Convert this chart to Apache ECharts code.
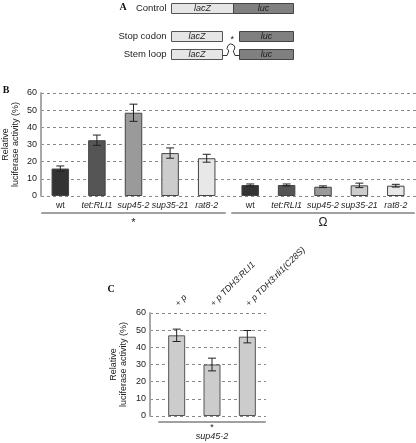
<!DOCTYPE html>
<html>
<head>
<meta charset="utf-8">
<script src="https://cdn.jsdelivr.net/npm/echarts@6/dist/echarts.min.js"></script>
<style>
html,body{margin:0;padding:0;background:#fff;}
#c{width:416px;height:443px;}
</style>
</head>
<body>
<div id="c"></div>
<script>
// ---- data ----
var strainsB = ['wt', 'tet:RLI1', 'sup45-2', 'sup35-21', 'rat8-2'];
var stopValues = [16, 32.5, 48.5, 25, 22];
var stopErrors = [1.5, 3, 5, 3, 2.3];
var loopValues = [6.4, 6.4, 5.4, 6.2, 6.0];
var loopErrors = [0.6, 0.6, 0.5, 1.3, 0.8];
var plasmidsC = ['+ p', '+ p TDH3:RLI1', '+ p TDH3:rli1(C28S)'];
var valuesC = [47, 30, 46.2];
var errorsC = [3.6, 3.7, 3.6];
var yMin = 0, yMax = 60, yStep = 10;

// ---- styles ----
var barColorsB = ['#333333', '#555555', '#9a9a9a', '#cccccc', '#e8e8e8'];
var barColorC = '#cccccc';
var FONT = 'Liberation Sans, Arial, sans-serif';
var SERIF = 'Liberation Serif, DejaVu Serif, serif';

var chart = echarts.init(document.getElementById('c'), null, {renderer: 'canvas'});

function errItem(params, api) {
  var x = api.value(0), y = api.value(1), e = api.value(2);
  var hi = api.coord([x, y + e]), lo = api.coord([x, y - e]);
  var w = 4;
  var st = {stroke: '#222', lineWidth: 1};
  return {type: 'group', children: [
    {type: 'line', shape: {x1: hi[0], y1: hi[1], x2: lo[0], y2: lo[1]}, style: st},
    {type: 'line', shape: {x1: hi[0] - w, y1: hi[1], x2: hi[0] + w, y2: hi[1]}, style: st},
    {type: 'line', shape: {x1: lo[0] - w, y1: lo[1], x2: lo[0] + w, y2: lo[1]}, style: st}
  ]};
}

var labelRich = {
  n: {fontSize: 8.8, fontStyle: 'normal', fontFamily: FONT, color: '#222'},
  i: {fontSize: 8.8, fontStyle: 'italic', fontFamily: FONT, color: '#222'}
};
function strainFmt(v) { return v === 'wt' ? '{n|wt}' : '{i|' + v + '}'; }
function plasmidFmt(v) { return '{n|+ }{i|' + v.replace(/^\+ /, '') + '}'; }

var valueYAxisShown = function (gi, gap) {
  return {
    gridIndex: gi, type: 'value', min: yMin, max: yMax, interval: yStep,
    axisLine: {show: true, lineStyle: {color: '#a8a8a8', width: 2}},
    axisTick: {show: false},
    axisLabel: {fontSize: 9, color: '#222', fontFamily: FONT, margin: 4},
    splitLine: {show: true, lineStyle: {color: '#888', type: [3, 3], width: 1}},
    name: 'Relative\nluciferase activity (%)',
    nameLocation: 'middle', nameGap: gap, nameMoveOverlap: false,
    nameTextStyle: {fontSize: 9, color: '#222', fontFamily: FONT, lineHeight: 10}
  };
};
var hiddenY = function (gi) {
  return {gridIndex: gi, type: 'value', min: yMin, max: yMax, interval: yStep, show: false, splitLine: {show: false}};
};
var labelX = function (gi, data, fmt, pos, extra) {
  var a = {
    gridIndex: gi, type: 'category', data: data, position: pos,
    axisLine: {show: false}, axisTick: {show: false},
    axisLabel: {interval: 0, formatter: fmt, rich: labelRich, margin: 5}
  };
  if (extra) { for (var k in extra) a.axisLabel[k] = extra[k]; }
  return a;
};
var underlineX = function (gi, data, off, name, gap, nts) {
  return {
    gridIndex: gi, type: 'category', data: data, position: 'bottom', offset: off,
    axisLine: {show: true, lineStyle: {color: '#a0a0a0', width: 2}},
    axisTick: {show: false}, axisLabel: {show: false},
    name: name, nameLocation: 'middle', nameGap: gap, nameTextStyle: nts
  };
};

var gridBase = {outerBoundsMode: 'none', containLabel: false};
function mkGrid(l, w, t, h) {
  return Object.assign({}, gridBase, {left: l, width: w, top: t, height: h});
}

var option = {
  animation: false,
  backgroundColor: '#fff',
  grid: [
    mkGrid(41, 375, 93, 103),   // B background
    mkGrid(42, 183, 93, 103),   // B stop codon
    mkGrid(232, 182, 93, 103),  // B stem loop
    mkGrid(150, 116, 313, 103), // C background
    mkGrid(159, 106, 313, 103)  // C bars
  ],
  xAxis: [
    {gridIndex: 0, type: 'value', show: false, splitLine: {show: false}},
    labelX(1, strainsB, strainFmt, 'bottom'),
    underlineX(1, strainsB, 17, '*', 4, {fontSize: 11, color: '#222', fontFamily: FONT}),
    labelX(2, strainsB, strainFmt, 'bottom'),
    underlineX(2, strainsB, 17, 'Ω', 4, {fontSize: 12, color: '#222', fontFamily: FONT}),
    {gridIndex: 3, type: 'value', show: false, splitLine: {show: false}},
    labelX(4, plasmidsC, plasmidFmt, 'top', {rotate: 45, margin: 8}),
    underlineX(4, plasmidsC, 6, '{a|*}\n{b|sup45-2}', 2, {
      color: '#222', fontFamily: FONT,
      rich: {
        a: {fontSize: 9, lineHeight: 7, fontFamily: FONT, color: '#222'},
        b: {fontSize: 9, lineHeight: 11, fontStyle: 'italic', fontFamily: FONT, color: '#222'}
      }
    })
  ],
  yAxis: [
    valueYAxisShown(0, 20),
    hiddenY(1),
    hiddenY(2),
    valueYAxisShown(3, 21.5),
    hiddenY(4)
  ],
  series: [
    {type: 'bar', xAxisIndex: 1, yAxisIndex: 1, barWidth: 17.5,
     itemStyle: {borderColor: '#444', borderWidth: 1},
     data: stopValues.map(function (v, i) { return {value: v, itemStyle: {color: barColorsB[i]}}; })},
    {type: 'custom', xAxisIndex: 1, yAxisIndex: 1, renderItem: errItem, z: 5,
     data: stopValues.map(function (v, i) { return [i, v, stopErrors[i]]; })},
    {type: 'bar', xAxisIndex: 3, yAxisIndex: 2, barWidth: 17.5,
     itemStyle: {borderColor: '#444', borderWidth: 1},
     data: loopValues.map(function (v, i) { return {value: v, itemStyle: {color: barColorsB[i]}}; })},
    {type: 'custom', xAxisIndex: 3, yAxisIndex: 2, renderItem: errItem, z: 5,
     data: loopValues.map(function (v, i) { return [i, v, loopErrors[i]]; })},
    {type: 'bar', xAxisIndex: 6, yAxisIndex: 4, barWidth: 17,
     itemStyle: {color: barColorC, borderColor: '#555', borderWidth: 1},
     data: valuesC},
    {type: 'custom', xAxisIndex: 6, yAxisIndex: 4, renderItem: errItem, z: 5,
     data: valuesC.map(function (v, i) { return [i, v, errorsC[i]]; })}
  ],
  graphic: [
    // panel letters
    {type: 'text', x: 123, y: 7, style: {text: 'A', font: 'bold 10px ' + SERIF, fill: '#111', align: 'center', verticalAlign: 'middle'}},
    {type: 'text', x: 6, y: 90, style: {text: 'B', font: 'bold 10px ' + SERIF, fill: '#111', align: 'center', verticalAlign: 'middle'}},
    {type: 'text', x: 111, y: 289, style: {text: 'C', font: 'bold 10px ' + SERIF, fill: '#111', align: 'center', verticalAlign: 'middle'}},
    // construct labels
    {type: 'text', x: 166.5, y: 8.5, style: {text: 'Control', font: '9.5px ' + FONT, fill: '#222', align: 'right', verticalAlign: 'middle'}},
    {type: 'text', x: 166.5, y: 36.5, style: {text: 'Stop codon', font: '9.5px ' + FONT, fill: '#222', align: 'right', verticalAlign: 'middle'}},
    {type: 'text', x: 166.5, y: 54.5, style: {text: 'Stem loop', font: '9.5px ' + FONT, fill: '#222', align: 'right', verticalAlign: 'middle'}},
    // control
    {type: 'rect', shape: {x: 171.5, y: 3.5, width: 62, height: 10}, style: {fill: '#e6e6e6', stroke: '#555', lineWidth: 1}},
    {type: 'rect', shape: {x: 233.5, y: 3.5, width: 60, height: 10}, style: {fill: '#808080', stroke: '#444', lineWidth: 1}},
    {type: 'text', x: 202.5, y: 8.5, style: {text: 'lacZ', font: 'italic 9px ' + FONT, fill: '#222', align: 'center', verticalAlign: 'middle'}},
    {type: 'text', x: 263.5, y: 8.5, style: {text: 'luc', font: 'italic 9px ' + FONT, fill: '#222', align: 'center', verticalAlign: 'middle'}},
    // stop codon
    {type: 'rect', shape: {x: 171.5, y: 31.5, width: 51, height: 10}, style: {fill: '#e6e6e6', stroke: '#555', lineWidth: 1}},
    {type: 'rect', shape: {x: 239.5, y: 31.5, width: 54, height: 10}, style: {fill: '#808080', stroke: '#444', lineWidth: 1}},
    {type: 'text', x: 197, y: 36.5, style: {text: 'lacZ', font: 'italic 9px ' + FONT, fill: '#222', align: 'center', verticalAlign: 'middle'}},
    {type: 'text', x: 266.5, y: 36.5, style: {text: 'luc', font: 'italic 9px ' + FONT, fill: '#222', align: 'center', verticalAlign: 'middle'}},
    {type: 'text', x: 232.3, y: 40, style: {text: '*', font: '9px ' + FONT, fill: '#222', align: 'center', verticalAlign: 'middle'}},
    // stem loop
    {type: 'rect', shape: {x: 171.5, y: 49.5, width: 51, height: 10}, style: {fill: '#e6e6e6', stroke: '#555', lineWidth: 1}},
    {type: 'rect', shape: {x: 239.5, y: 49.5, width: 54, height: 10}, style: {fill: '#808080', stroke: '#444', lineWidth: 1}},
    {type: 'text', x: 197, y: 54.5, style: {text: 'lacZ', font: 'italic 9px ' + FONT, fill: '#222', align: 'center', verticalAlign: 'middle'}},
    {type: 'text', x: 266.5, y: 54.5, style: {text: 'luc', font: 'italic 9px ' + FONT, fill: '#222', align: 'center', verticalAlign: 'middle'}},
    {type: 'polyline', shape: {points: [[222.5, 55.5], [227, 55.5], [228.8, 51]]}, style: {stroke: '#333', lineWidth: 1, fill: null}},
    {type: 'arc', shape: {cx: 231, cy: 47.8, r: 3.8, startAngle: 2.17, endAngle: 7.25, clockwise: true}, style: {stroke: '#333', lineWidth: 1, fill: null}},
    {type: 'polyline', shape: {points: [[233.2, 51], [235, 55.5], [239.5, 55.5]]}, style: {stroke: '#333', lineWidth: 1, fill: null}}
  ]
};
chart.setOption(option);
</script>
</body>
</html>
